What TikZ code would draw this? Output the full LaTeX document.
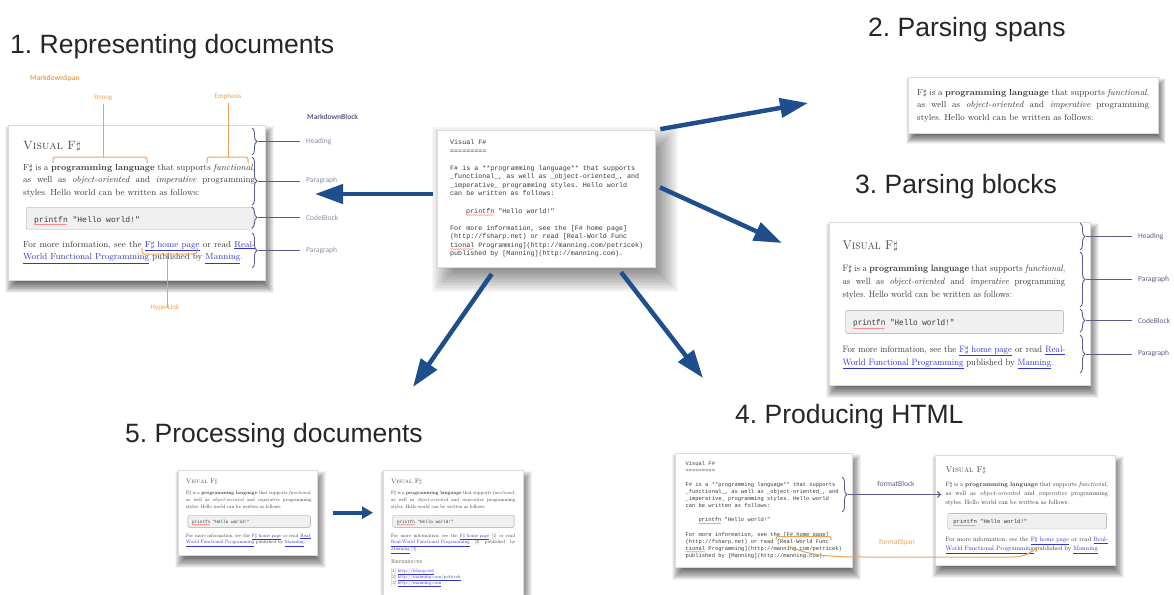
\documentclass[tikz,border=0pt]{standalone}
\usepackage{fontspec}
\setmonofont{Liberation Mono}
\newfontfamily\headfont{Liberation Sans}
\newfontfamily\labfont{Carlito}
\usetikzlibrary{arrows.meta,decorations.pathreplacing,decorations.pathmorphing}
\frenchspacing

\definecolor{arrowblue}{HTML}{1F4E8C}
\definecolor{docink}{HTML}{3A3A3A}
\definecolor{headink}{HTML}{4A4A4A}
\definecolor{linkblue}{HTML}{3535CC}
\definecolor{spanorange}{HTML}{E9A35A}
\definecolor{blockslate}{HTML}{5C5C88}
\definecolor{blocklabel}{HTML}{8C8CA8}
\definecolor{titleink}{HTML}{262626}

\newcommand\lnk[1]{\textcolor{linkblue}{\underline{#1}}}

\tikzset{
  steptitle/.style={font=\headfont\fontsize{26.5}{30}\selectfont, text=titleink, inner sep=0, anchor=base west},
  docframe/.style={draw=black!14, fill=white, line width=0.4pt, inner sep=0, anchor=north west},
  doch/.style={font=\fontsize{12}{14}\selectfont, text=headink, inner sep=0, anchor=base west},
  docp/.style={font=\fontsize{8.8}{10}\selectfont, text=docink, inner sep=0, anchor=base west},
  codebox/.style={draw=black!35, fill=black!6, rounded corners=1.5pt, inner sep=0, anchor=north west, minimum width=227pt, minimum height=22pt},
  codetxt/.style={font=\ttfamily\fontsize{8}{10}\selectfont, text=docink, inner sep=0, anchor=base west},
  mono/.style={font=\ttfamily\fontsize{6.7}{8}\selectfont, text=docink, inner sep=0, anchor=base west},
  bigarrow/.style={draw=arrowblue, line width=4.5pt, -{Triangle[length=28pt,width=19pt]}},
  squiggle/.style={draw=red!65, line width=0.3pt, decorate, decoration={snake, amplitude=0.4pt, segment length=2pt}},
  blockbrace/.style={draw=blockslate, line width=0.9pt, decorate, decoration={brace, amplitude=5pt}},
  blockline/.style={draw=blockslate, line width=0.9pt},
  blocklab/.style={font=\labfont\fontsize{7.5}{9}\selectfont, text=blocklabel, inner sep=0, anchor=west},
  spanline/.style={draw=spanorange, line width=1pt},
  spanlab/.style={font=\labfont\fontsize{7}{9}\selectfont, text=spanorange, inner sep=0},
}

% soft drop shadow: corners x1 y1 x2 y2, offset dx dy, blur radius, layer opacity
\newcommand\softshadow[8]{%
  \foreach \k in {0,...,19}{%
    \pgfmathsetmacro\shE{#7*(\k/9.5-1)}%
    \pgfmathsetmacro\shXa{#1+#5-1*(\shE)}%
    \pgfmathsetmacro\shYa{#2+#6-1*(\shE)}%
    \pgfmathsetmacro\shXb{#3+#5+1*(\shE)}%
    \pgfmathsetmacro\shYb{#4+#6+1*(\shE)}%
    \fill[black,opacity=#8] (\shXa,\shYa) rectangle (\shXb,\shYb);
  }}

% justified introduction paragraph: prefix, left x, first baseline
\newcommand\docpara[3]{%
  \node[docp] (#1p1) at (#2,#3) {\makebox[232pt][s]{F$\sharp$ is a \textbf{programming language} that supports \textit{functional},}};
  \node[docp] (#1p2) at (#2,#3+12.5) {\makebox[232pt][s]{as well as \textit{object-oriented} and \textit{imperative} programming}};
  \node[docp] (#1p3) at (#2,#3+25) {styles. Hello world can be written as follows:};
}

% rendered page: heading, paragraph and code block
\newcommand\docserif[1]{%
  \node[doch] (#1h) at (15,24) {\textsc{Visual F$\sharp$}};
  \docpara{#1}{15}{45}
  \node[codebox] (#1c) at (18,82) {};
  \node[codetxt] (#1ct) at (26,97) {printfn "Hello world!"};
  \draw[squiggle] (26,99.5) -- (59,99.5);
}

% rendered page: closing paragraph with inline links
\newcommand\docmore[1]{%
  \node[docp] (#1q1) at (15,122) {\makebox[232pt][s]{For more information, see the \lnk{F$\sharp$ home page} or read \lnk{Real-}}};
  \node[docp] (#1q2) at (15,134.5) {\lnk{World Functional Programming} published by \lnk{Manning}.};
}

% rendered page: closing paragraph with numbered references
\newcommand\docrefs[1]{%
  \node[docp] (#1r1) at (15,122) {\makebox[232pt][s]{For more information, see the \lnk{F$\sharp$ home page} [1] or read}};
  \node[docp] (#1r2) at (15,134.5) {\makebox[232pt][s]{\lnk{Real-World Functional Programming} [2] published by}};
  \node[docp] (#1r3) at (15,147) {\lnk{Manning} [3].};
  \node[docp, font=\fontsize{10}{12}\selectfont, text=headink] (#1rh) at (15,170) {\textsc{References}};
  \node[docp] (#1ra) at (15,186) {[1] \lnk{http://fsharp.net}};
  \node[docp] (#1rb) at (15,197) {[2] \lnk{http://manning.com/petricek}};
  \node[docp] (#1rc) at (15,208) {[3] \lnk{http://manning.com}};
}

% Markdown source text
\newcommand\docmono[1]{%
  \node[mono] (#1l0) at (13,14.5) {Visual F\#};
  \node[mono] (#1l1) at (13,23) {=========};
  \node[mono] (#1l2) at (13,40) {F\# is a **programming language** that supports};
  \node[mono] (#1l3) at (13,48.6) {\_functional\_, as well as \_object-oriented\_, and};
  \node[mono] (#1l4) at (13,57.2) {\_imperative\_ programming styles. Hello world};
  \node[mono] (#1l5) at (13,65.8) {can be written as follows:};
  \node[mono] (#1l6) at (29,83) {printfn "Hello world!"};
  \node[mono] (#1l7) at (13,100) {For more information, see the [F\# home page]};
  \node[mono] (#1l8) at (13,108.6) {(http://fsharp.net) or read [Real-World Func};
  \node[mono] (#1l9) at (13,117.2) {tional Programming](http://manning.com/petricek)};
  \node[mono] (#1l10) at (13,125.8) {published by [Manning](http://manning.com).};
  \draw[squiggle] (29,85) -- (57,85);
  \draw[squiggle] (13,119) -- (37,119);
}

\begin{document}
\begin{tikzpicture}[x=1pt,y=-1pt]
\fill[white] (0,0) rectangle (1174,594);
\useasboundingbox (0,0) rectangle (1174,594);

% ---- step titles
\node[steptitle] (t1) at (10,53) {1. Representing documents};
\node[steptitle] (t2) at (868,37) {2. Parsing spans};
\node[steptitle] (t3) at (855,193) {3. Parsing blocks};
\node[steptitle] (t4) at (735,423) {4. Producing HTML};
\node[steptitle] (t5) at (125,442) {5. Processing documents};

% ---- shadows under the pages
\softshadow{437}{130}{655}{267}{9}{11}{14}{0.03}
\softshadow{8}{125}{265}{280}{3}{7}{6}{0.04}
\softshadow{908}{77}{1158}{133}{3}{6}{5}{0.04}
\softshadow{829}{222}{1090}{385}{3}{7}{6}{0.04}
\softshadow{675}{453}{852}{567}{3}{7}{6}{0.04}
\softshadow{935}{455}{1115}{565}{3}{7}{6}{0.04}
\softshadow{178}{470}{317}{555}{3}{7}{6}{0.04}
\softshadow{383}{470}{523}{600}{3}{7}{6}{0.04}

% ---- Markdown source in the middle
\node[docframe, minimum width=218pt, minimum height=137pt] (cdoc) at (437,130) {};
\begin{scope}[shift={(437,130)}, transform shape] \docmono{c} \end{scope}

% ---- 1. document representation
\node[docframe, minimum width=257pt, minimum height=155pt] (p1doc) at (8,125) {};
\begin{scope}[shift={(8,125)}, transform shape] \docserif{p1}\docmore{p1} \end{scope}

\node[spanlab, anchor=west, font=\labfont\bfseries\fontsize{7.5}{9}\selectfont] (mspan) at (30,78) {MarkdownSpan};
\node[spanlab] (strong) at (103,98) {Strong};
\node[spanlab] (emph) at (228,97) {Emphasis};
\node[spanlab] (hlink) at (165,308) {HyperLink};
\coordinate (strongbr) at (103,157);
\coordinate (emphbr) at (228,157);
\coordinate (hlinkbr) at (167,254);
\draw[spanline, rounded corners=2.5pt] (53,163) -- (53,157) -- (147,157) -- (147,163);
\draw[spanline, rounded corners=2.5pt] (207,163) -- (207,157) -- (248,157) -- (248,163);
\draw[spanline, rounded corners=2.5pt] (142,248) -- (142,254) -- (197,254) -- (197,248);
\draw[spanline] (strong.south) ++(0,3) -- (strongbr);
\draw[spanline] (emph.south) ++(0,3) -- (emphbr);
\draw[spanline] (hlinkbr) -- ([yshift=-3pt]hlink.north -| hlinkbr);

\node[blocklab, font=\labfont\bfseries\fontsize{7.5}{9}\selectfont, text=blockslate] (mblock) at (307,117) {MarkdownBlock};
\draw[blockbrace] (252,128) -- (252,155);
\draw[blockbrace] (252,157) -- (252,205);
\draw[blockbrace] (252,207) -- (252,228);
\draw[blockbrace] (252,233) -- (252,268);
\node[blocklab] (p1b1) at (306,141.5) {Heading};
\node[blocklab] (p1b2) at (306,181) {Paragraph};
\node[blocklab] (p1b3) at (306,217.5) {CodeBlock};
\node[blocklab] (p1b4) at (306,250.5) {Paragraph};
\draw[blockline] (258,141.5) -- ([xshift=-6pt]p1b1.west);
\draw[blockline] (258,181) -- ([xshift=-6pt]p1b2.west);
\draw[blockline] (258,217.5) -- ([xshift=-6pt]p1b3.west);
\draw[blockline] (258,250.5) -- ([xshift=-6pt]p1b4.west);

% ---- 2. spans
\node[docframe, minimum width=250pt, minimum height=56pt] (p2doc) at (908,77) {};
\begin{scope}[shift={(902,50)}, transform shape] \docpara{p2}{15}{45} \end{scope}

% ---- 3. blocks
\node[docframe, minimum width=261pt, minimum height=163pt] (p3doc) at (829,222) {};
\begin{scope}[shift={(828,224)}, xscale=0.96, yscale=1.05, transform shape] \docserif{p3}\docmore{p3} \end{scope}
\draw[blockbrace] (1080,223) -- (1080,250);
\draw[blockbrace] (1080,252) -- (1080,307);
\draw[blockbrace] (1080,309) -- (1080,332);
\draw[blockbrace] (1080,335) -- (1080,373);
\node[blocklab, text=blockslate] (p3b1) at (1138,236.5) {Heading};
\node[blocklab, text=blockslate] (p3b2) at (1138,279.5) {Paragraph};
\node[blocklab, text=blockslate] (p3b3) at (1138,320.5) {CodeBlock};
\node[blocklab, text=blockslate] (p3b4) at (1138,354) {Paragraph};
\draw[blockline] (1086,236.5) -- ([xshift=-6pt]p3b1.west);
\draw[blockline] (1086,279.5) -- ([xshift=-6pt]p3b2.west);
\draw[blockline] (1086,320.5) -- ([xshift=-6pt]p3b3.west);
\draw[blockline] (1086,354) -- ([xshift=-6pt]p3b4.west);

% ---- 4. HTML output
\node[docframe, minimum width=177pt, minimum height=114pt] (p4src) at (675,453) {};
\begin{scope}[shift={(675,453)}, xscale=0.81, yscale=0.83, transform shape] \docmono{p4s} \end{scope}
\node[docframe, minimum width=180pt, minimum height=110pt] (p4out) at (935,455) {};
\begin{scope}[shift={(935,455)}, xscale=0.70, yscale=0.71, transform shape] \docserif{p4o}\docmore{p4o} \end{scope}

\draw[blockbrace] (842,477) -- (842,512);
\coordinate (fbstart) at (848,494.5);
\node[blocklab, anchor=center, text=blockslate] (fblock) at (896,484) {formatBlock};
\draw[blockline, -{Straight Barb[length=3pt,width=6pt]}] (fbstart) -- ([xshift=6pt]fbstart -| p4out.west);

\node[spanlab, font=\labfont\fontsize{7.5}{9}\selectfont] (fspan) at (897,543) {formatSpan};
\draw[spanline, rounded corners=2pt] (776,540) -- (776,536.5) -- (831,536.5) -- (831,540);
\coordinate (fsstart) at (788,546);
\coordinate (fsend) at (1038,547);
\draw[spanline, -{Stealth[length=5pt,width=5pt]}] (fsstart) .. controls (810,556) and (830,557) .. (870,557) -- (1012,557) .. controls (1024,557) and (1030,553) .. (fsend);

% ---- 5. processing documents
\node[docframe, minimum width=139pt, minimum height=85pt] (bldoc) at (178,470) {};
\begin{scope}[shift={(178,470)}, xscale=0.54, yscale=0.55, transform shape] \docserif{bl}\docmore{bl} \end{scope}
\node[docframe, minimum width=140pt, minimum height=135pt] (brdoc) at (383,470) {};
\begin{scope}[shift={(383,470)}, xscale=0.535, yscale=0.55, transform shape] \docserif{br}\docrefs{br} \end{scope}
\draw[draw=arrowblue, line width=4pt, -{Triangle[length=11pt,width=12pt]}, shorten <=16pt, shorten >=10pt] (bldoc.east) -- (bldoc.east -| brdoc.west);

% ---- steps fanning out from the source
\coordinate (tipL) at (315,194);
\coordinate (tipUR) at (808,103);
\coordinate (tipMR) at (782,243);
\coordinate (tipDL) at (413,387);
\coordinate (tipDR) at (703,378);
\draw[bigarrow, shorten <=4pt] (cdoc.west |- tipL) -- (tipL);
\draw[bigarrow, shorten <=5pt] (cdoc.north east) -- (tipUR);
\draw[bigarrow, shorten <=5pt] (cdoc.7) -- (tipMR);
\draw[bigarrow, shorten <=8pt] (cdoc.234) -- (tipDL);
\draw[bigarrow, shorten <=6pt] (cdoc.316) -- (tipDR);
\end{tikzpicture}
\end{document}
